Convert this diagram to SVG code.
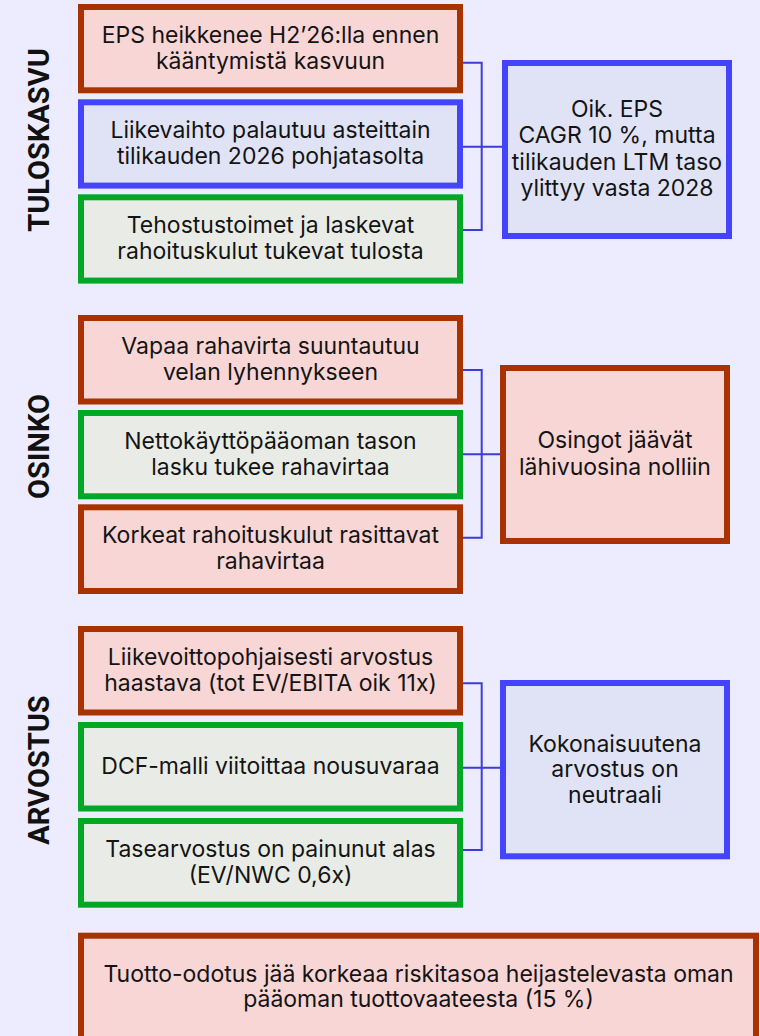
<svg xmlns="http://www.w3.org/2000/svg" width="760" height="1036" viewBox="0 0 760 1036">
  <style>
    .bg { fill: #EDEBFE; }
    .neg { fill: #F8D6D5; stroke: #A93300; stroke-width: 6; }
    .neu { fill: #E0E3F5; stroke: #4444FF; stroke-width: 6; }
    .pos { fill: #E9ECE6; stroke: #00A826; stroke-width: 6; }
    .t { font-family: Inter, "Liberation Sans", sans-serif; font-size: 23px; fill: #141414; text-anchor: middle; }
    .sec { font-family: Roboto, "Liberation Sans", sans-serif; font-weight: bold; font-size: 29px; fill: #111; text-anchor: middle; }
    .link { fill: none; stroke: #3C3CD6; stroke-width: 2; }
  </style>
  <rect class="bg" x="0" y="0" width="760" height="1036"/>

  <!-- section labels -->
  <g id="label-tuloskasvu"><text class="sec" transform="translate(39,140) rotate(-90)" y="10">TULOSKASVU</text></g>
  <g id="label-osinko"><text class="sec" transform="translate(39,446.5) rotate(-90)" y="10">OSINKO</text></g>
  <g id="label-arvostus"><text class="sec" transform="translate(39,770) rotate(-90)" y="10">ARVOSTUS</text></g>

  <!-- connectors -->
  <g id="connectors">
    <path class="link" d="M463 62.7 H481.7 V230 H463 M463 146.7 H502"/>
    <path class="link" d="M463 370 H481.7 V537.7 H463 M463 454.3 H500"/>
    <path class="link" d="M463 683.3 H481.7 V850 H463 M463 767.7 H500"/>
  </g>

  <!-- TULOSKASVU -->
  <g id="eps-h2">
    <rect class="neg" x="81" y="7" width="379" height="83.3"/>
    <text class="t" x="270.5" y="42.7">EPS heikkenee H2’26:lla ennen</text>
    <text class="t" x="270.5" y="68.5">kääntymistä kasvuun</text>
  </g>
  <g id="liikevaihto">
    <rect class="neu" x="81" y="102.3" width="379" height="83.3"/>
    <text class="t" x="270.5" y="137.5">Liikevaihto palautuu asteittain</text>
    <text class="t" x="270.5" y="163.5">tilikauden 2026 pohjatasolta</text>
  </g>
  <g id="tehostus">
    <rect class="pos" x="81" y="197.3" width="379" height="83.3"/>
    <text class="t" x="270.5" y="232.5">Tehostustoimet ja laskevat</text>
    <text class="t" x="270.5" y="258.5">rahoituskulut tukevat tulosta</text>
  </g>
  <g id="oik-eps">
    <rect class="neu" x="505" y="63" width="224" height="173"/>
    <text class="t" x="617" y="117.3">Oik. EPS</text>
    <text class="t" x="617" y="143.3">CAGR 10 %, mutta</text>
    <text class="t" x="617" y="169.5">tilikauden LTM taso</text>
    <text class="t" x="617" y="195.5">ylittyy vasta 2028</text>
  </g>

  <!-- OSINKO -->
  <g id="vapaa-rahavirta">
    <rect class="neg" x="81" y="318" width="379" height="83.5"/>
    <text class="t" x="270.5" y="354.3">Vapaa rahavirta suuntautuu</text>
    <text class="t" x="270.5" y="380.3">velan lyhennykseen</text>
  </g>
  <g id="nettokayttopaaoma">
    <rect class="pos" x="81" y="413" width="379" height="83.3"/>
    <text class="t" x="270.5" y="448.5">Nettokäyttöpääoman tason</text>
    <text class="t" x="270.5" y="474.7">lasku tukee rahavirtaa</text>
  </g>
  <g id="rahoituskulut">
    <rect class="neg" x="81" y="507.3" width="379" height="83.7"/>
    <text class="t" x="270.5" y="543.3">Korkeat rahoituskulut rasittavat</text>
    <text class="t" x="270.5" y="569.3">rahavirtaa</text>
  </g>
  <g id="osingot">
    <rect class="neg" x="503" y="368" width="224" height="173"/>
    <text class="t" x="615" y="448.3">Osingot jäävät</text>
    <text class="t" x="615" y="474.7">lähivuosina nolliin</text>
  </g>

  <!-- ARVOSTUS -->
  <g id="liikevoitto">
    <rect class="neg" x="81" y="629" width="379" height="83.5"/>
    <text class="t" x="270.5" y="665">Liikevoittopohjaisesti arvostus</text>
    <text class="t" x="270.5" y="691">haastava (tot EV/EBITA oik 11x)</text>
  </g>
  <g id="dcf">
    <rect class="pos" x="81" y="725" width="379" height="83.5"/>
    <text class="t" x="270.5" y="774.3">DCF-malli viitoittaa nousuvaraa</text>
  </g>
  <g id="tasearvostus">
    <rect class="pos" x="81" y="821" width="379" height="83.7"/>
    <text class="t" x="270.5" y="856.8">Tasearvostus on painunut alas</text>
    <text class="t" x="270.5" y="882.8">(EV/NWC 0,6x)</text>
  </g>
  <g id="kokonaisuus">
    <rect class="neu" x="503" y="683" width="224" height="173.3"/>
    <text class="t" x="615" y="751.7">Kokonaisuutena</text>
    <text class="t" x="615" y="776.9">arvostus on</text>
    <text class="t" x="615" y="802.7">neutraali</text>
  </g>

  <!-- required return -->
  <g id="tuotto-odotus">
    <rect class="neg" x="81" y="935.7" width="675" height="104"/>
    <text class="t" x="418.5" y="981.7">Tuotto-odotus jää korkeaa riskitasoa heijastelevasta oman</text>
    <text class="t" x="418.5" y="1006.9">pääoman tuottovaateesta (15 %)</text>
  </g>
</svg>
